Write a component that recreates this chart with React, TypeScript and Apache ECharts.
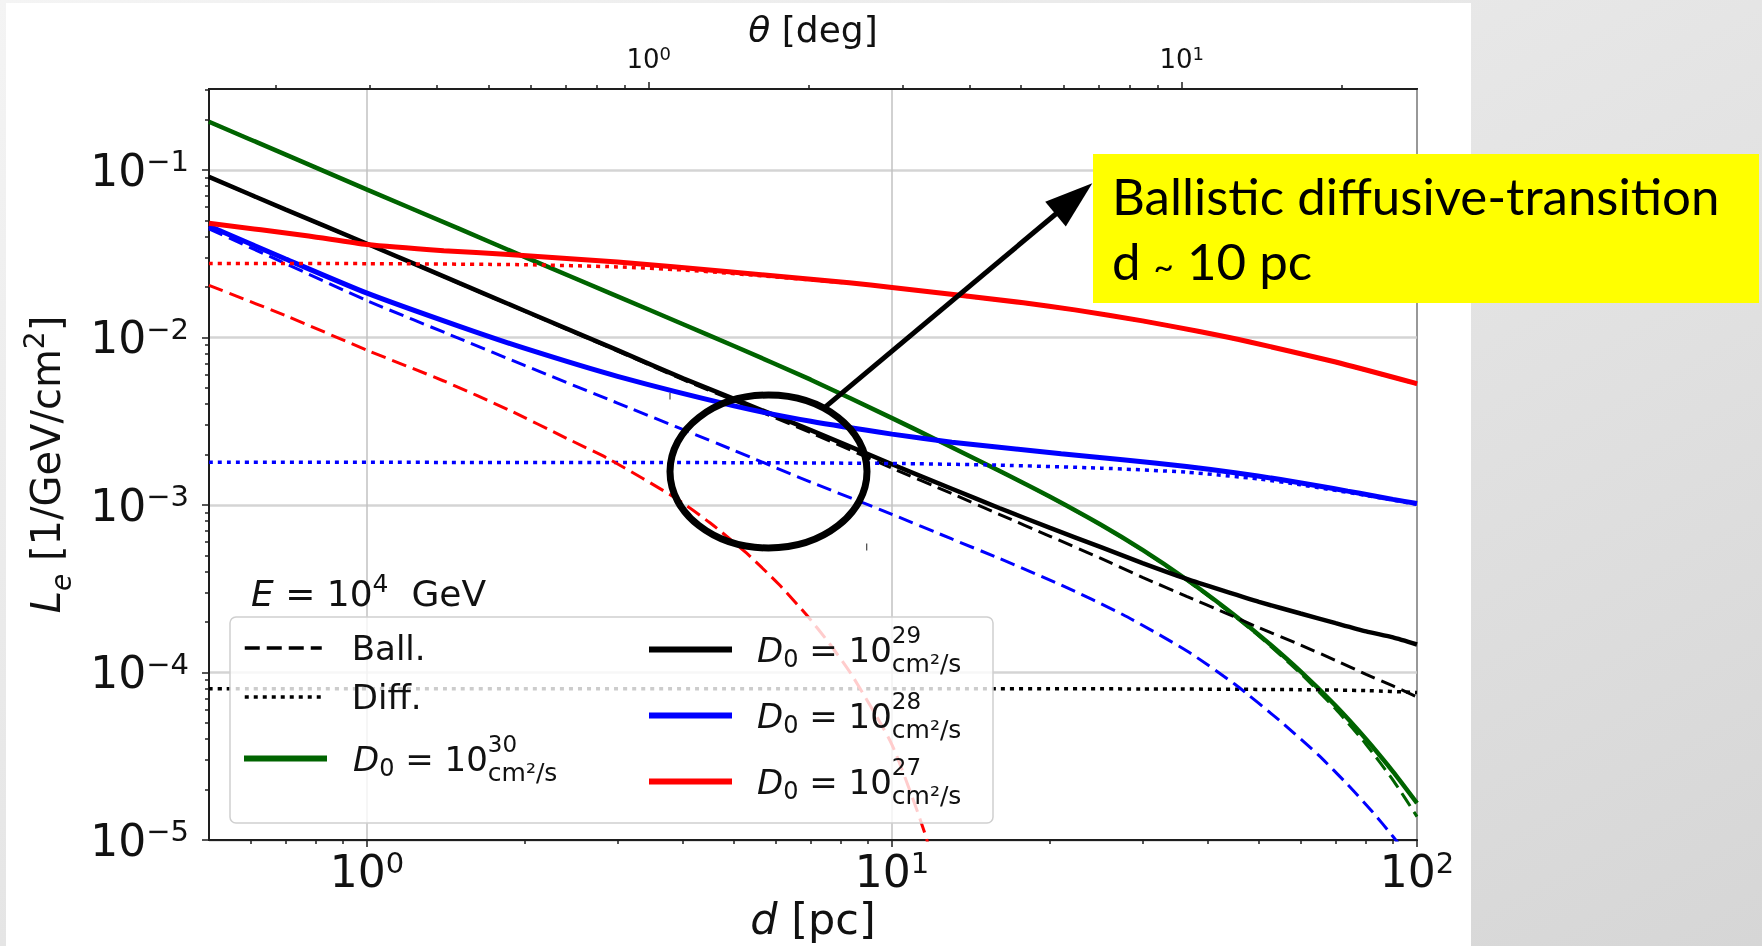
import React, { useEffect, useRef } from 'react';
import * as echarts from 'echarts';

type Pt = [number, number];

// ---------- data: [d (pc), L_e (1/GeV/cm^2)] ----------
const d30Total: Pt[] = [
  [0.5, 0.194], [0.7, 0.1235], [1, 0.0763], [1.5, 0.0445], [2, 0.0302], [3, 0.0176], [4, 0.012],
  [5, 0.0089], [7, 0.0056], [10, 0.0033], [12.1, 0.00247], [16, 0.0016], [20, 0.001119],
  [25, 0.000762], [30, 0.000539], [36.4, 0.000359], [43, 0.0002446], [50, 0.0001677],
  [60, 0.0001016], [70, 0.0000633], [80, 0.00004], [90, 0.0000256], [100, 0.0000166],
];
const d30Ball: Pt[] = [
  [0.5, 0.194], [0.7, 0.1235], [1, 0.0763], [1.5, 0.0445], [2, 0.0302], [3, 0.0176], [4, 0.012],
  [5, 0.0089], [7, 0.0056], [10, 0.0033], [12.1, 0.002467], [16, 0.001597], [20, 0.001116],
  [25, 0.000759], [30, 0.000536], [36.4, 0.000356], [43, 0.0002418], [50, 0.0001649],
  [60, 0.0000988], [70, 0.0000605], [80, 0.0000372], [90, 0.0000228], [100, 0.0000138],
];
const d29Total: Pt[] = [
  [0.5, 0.091], [0.7, 0.058], [1, 0.0363], [1.5, 0.0211], [2, 0.0144], [3, 0.0084], [4, 0.0057],
  [5, 0.0043], [7, 0.0028], [10, 0.00175], [13, 0.00125], [16, 0.00096], [20, 0.00073], [25, 0.00056],
  [30, 0.00045], [36.4, 0.000362], [43, 0.000306], [50, 0.000264], [60, 0.000225], [70, 0.000197],
  [80, 0.000176], [90, 0.000162], [100, 0.000147],
];
const d29Ball: Pt[] = [
  [0.5, 0.0909], [0.7, 0.0579], [1, 0.0362], [1.5, 0.021], [2, 0.0143], [3, 0.0083], [4, 0.0056],
  [5, 0.0042], [7, 0.0027], [10, 0.00166], [13, 0.00117], [16, 0.00088], [20, 0.00065], [25, 0.00048],
  [30, 0.00037], [36.4, 0.000285], [43, 0.000228], [50, 0.000185], [60, 0.000146], [70, 0.000118],
  [80, 0.0000975], [90, 0.0000832], [100, 0.0000715],
];
const d29Diff: Pt[] = [
  [0.5, 0.00008], [10, 0.00008], [30, 0.0000798], [60, 0.000079], [80, 0.000078], [100, 0.000076],
];
const d28Total: Pt[] = [
  [0.5, 0.0463], [0.7, 0.0294], [1, 0.0184], [1.5, 0.01165], [2, 0.0086], [3, 0.00586], [5, 0.00391],
  [7, 0.00316], [10, 0.00265], [13, 0.00237], [16, 0.00221], [21, 0.00202], [27.5, 0.00186],
  [36.4, 0.0017], [45, 0.00156], [55, 0.00142], [65, 0.0013], [73.8, 0.00121], [82, 0.00114],
  [90, 0.00108], [100, 0.00102],
];
const d28Ball: Pt[] = [
  [0.5, 0.0445], [0.7, 0.0276], [1, 0.0166], [1.5, 0.00985], [2, 0.00679], [3, 0.00406], [5, 0.00212],
  [7, 0.00137], [10, 0.00088], [13, 0.000627], [16, 0.00048], [21, 0.000333], [27.5, 0.000222],
  [36.4, 0.000135], [45, 0.000085], [55, 0.000051], [65, 0.000032], [73.8, 0.0000214], [82, 0.0000149],
  [90, 0.0000105], [96, 0.0000081],
];
const d28Diff: Pt[] = [
  [0.5, 0.0018], [5, 0.00179], [10, 0.00177], [16, 0.00173], [25, 0.00166], [36.4, 0.00157],
  [50, 0.00143], [60, 0.00132], [80, 0.00114], [100, 0.00101],
];
const d27Total: Pt[] = [
  [0.5, 0.0481], [0.774, 0.0404], [1, 0.0359], [1.4, 0.033], [1.86, 0.0313], [3, 0.0282],
  [4.89, 0.0247], [8.29, 0.0212], [10, 0.0199], [17.8, 0.01612], [22.3, 0.01462], [30, 0.01257],
  [38.5, 0.01086], [47.8, 0.00944], [70, 0.00714], [100, 0.0053],
];
const d27Ball: Pt[] = [
  [0.5, 0.0205], [0.7, 0.0135], [1, 0.0084], [1.4, 0.0055], [1.86, 0.0037], [2.4, 0.0025],
  [2.89, 0.00188], [3.87, 0.0011], [4.5, 0.000783], [5.28, 0.000517], [6.1, 0.000334],
  [6.87, 0.000221], [7.6, 0.000149], [8.43, 0.000094], [10, 0.000037], [11.6, 0.0000105],
  [12.5, 0.000004],
];
const d27Diff: Pt[] = [
  [0.5, 0.0277], [1, 0.0276], [2, 0.0272], [3, 0.0264], [4, 0.0253], [4.89, 0.0242], [8.29, 0.0211],
  [10, 0.0198], [17.8, 0.0161], [22.3, 0.0146], [30, 0.01255], [38.5, 0.01084], [47.8, 0.00942],
  [70, 0.00712], [100, 0.00528],
];

// ---------- axes ----------
const dRange = [0.5, 100];
const LRange = [1e-5, 0.3045];
const thetaRange = [0.1496, 27.64];
const dMajorTicks = [1, 10, 100];
const dMinorTicks = [0.6, 0.7, 0.8, 0.9, 2, 3, 4, 5, 6, 7, 8, 9, 20, 30, 40, 50, 60, 70, 80, 90];
const LMajorTicks = [1e-5, 1e-4, 1e-3, 1e-2, 1e-1];
const LMinorTicks = [
  2e-5, 3e-5, 4e-5, 5e-5, 6e-5, 7e-5, 8e-5, 9e-5,
  2e-4, 3e-4, 4e-4, 5e-4, 6e-4, 7e-4, 8e-4, 9e-4,
  2e-3, 3e-3, 4e-3, 5e-3, 6e-3, 7e-3, 8e-3, 9e-3,
  2e-2, 3e-2, 4e-2, 5e-2, 6e-2, 7e-2, 8e-2, 9e-2,
  0.2, 0.3,
];
const thetaMajorTicks = [1, 10];
const thetaMinorTicks = [0.2, 0.3, 0.4, 0.5, 0.6, 0.7, 0.8, 0.9, 2, 3, 4, 5, 6, 7, 8, 9, 20];

const legendExponents: Record<string, number> = {
  'D30': 30, 'D29': 29, 'D28': 28, 'D27': 27,
};

const FONT = "'DejaVu Sans', sans-serif";
const TXT = '#111111';
const AXC = '#1e1e1e';
const GREEN = '#006400';
const BLUE = '#0000ff';
const RED = '#ff0000';
const BLACK = '#000000';

const L10 = Math.log10;
const toXY = (pts: Pt[]) => pts.map(([d, L]) => [L10(d), L10(L)]);

const expLabel = (v: number) => {
  const n = Math.round(v);
  return `{b|10}{s|${n < 0 ? '\u2212' + -n : n}}`;
};

const bigTickRich = {
  b: { fontFamily: FONT, fontSize: 44, color: TXT },
  s: { fontFamily: FONT, fontSize: 29, color: TXT, padding: [0, 0, 18, 0] },
};
const smallTickRich = {
  b: { fontFamily: FONT, fontSize: 26, color: TXT },
  s: { fontFamily: FONT, fontSize: 18, color: TXT, padding: [0, 0, 12, 0] },
};
const legendRich = {
  it: { fontFamily: FONT, fontStyle: 'italic', fontSize: 34, color: TXT },
  s0: { fontFamily: FONT, fontSize: 24, color: TXT, padding: [19, 0, 0, 0] },
  n: { fontFamily: FONT, fontSize: 34, color: TXT },
  sup: { fontFamily: FONT, fontSize: 23, color: TXT, width: 0, padding: [0, 0, 30, 0] },
  sub: { fontFamily: FONT, fontSize: 25, color: TXT, padding: [28, 0, 0, 0] },
};

const tickLine = { color: AXC, width: 1.5 };

const lineSeries = (name: string, pts: Pt[], color: string, width: number, type: any) => ({
  type: 'line',
  name,
  data: toXY(pts),
  xAxisIndex: 0,
  yAxisIndex: 0,
  z: 2,
  symbol: 'none',
  showSymbol: false,
  smooth: 0.2,
  clip: true,
  silent: true,
  lineStyle: { color, width, type, cap: 'butt' },
  itemStyle: { color },
  emphasis: { disabled: true },
});

const DASH = [15, 7];
const DOT = [4, 5];

const legendItem = (name: string, left: number, top: number, itemWidth: number, padLeft: number, lw: number) => ({
  show: true,
  data: [name],
  left,
  top,
  orient: 'vertical',
  padding: 0,
  itemGap: 0,
  itemWidth,
  itemHeight: 60,
  selectedMode: false,
  z: 8,
  itemStyle: { opacity: 0 },
  lineStyle: { width: lw },
  formatter: (n: string) =>
    legendExponents[n] ? `{it|D}{s0|0}{n| = 10}{sup|${legendExponents[n]}}{sub|cm²/s}` : n,
  textStyle: { fontFamily: FONT, fontSize: 34, color: TXT, padding: [0, 0, 0, padLeft], rich: legendRich },
});

const noZero = { onZero: false };

const option: any = {
  animation: false,
  backgroundColor: 'transparent',
  grid: {
    left: 209, right: 345, top: 89, bottom: 106,
    show: true, borderColor: AXC, borderWidth: 2,
    outerBoundsMode: 'none',
  },
  xAxis: [
    {
      type: 'value', gridIndex: 0, position: 'bottom', min: L10(dRange[0]), max: L10(dRange[1]),
      name: '{i|d} [pc]', nameLocation: 'middle', nameGap: 57, nameMoveOverlap: false,
      nameTextStyle: {
        fontFamily: FONT, fontSize: 43, color: TXT,
        rich: { i: { fontFamily: FONT, fontSize: 43, fontStyle: 'italic', color: TXT } },
      },
      axisLine: { show: true, ...noZero, lineStyle: { color: AXC, width: 2 } },
      axisTick: { show: true, customValues: dMajorTicks.map(L10), length: 7, lineStyle: tickLine },
      axisLabel: {
        show: true, customValues: dMajorTicks.map(L10), formatter: expLabel, margin: 8,
        fontFamily: FONT, fontSize: 44, color: TXT, rich: bigTickRich,
      },
      splitLine: { show: true, lineStyle: { color: '#c2c2c2', width: 1.5 } },
    },
    {
      type: 'value', gridIndex: 0, position: 'bottom', min: L10(dRange[0]), max: L10(dRange[1]),
      axisLine: { show: false, ...noZero },
      axisTick: { show: true, customValues: dMinorTicks.map(L10), length: 4, lineStyle: tickLine },
      axisLabel: { show: false },
      splitLine: { show: false },
    },
    {
      type: 'value', gridIndex: 0, position: 'top', min: L10(thetaRange[0]), max: L10(thetaRange[1]),
      name: '{i|θ} [deg]', nameLocation: 'middle', nameGap: 42, nameMoveOverlap: false,
      nameTextStyle: {
        fontFamily: FONT, fontSize: 36, color: TXT,
        rich: { i: { fontFamily: FONT, fontSize: 36, fontStyle: 'italic', color: TXT } },
      },
      axisLine: { show: true, ...noZero, lineStyle: { color: AXC, width: 2 } },
      axisTick: { show: true, customValues: thetaMajorTicks.map(L10), length: 7, lineStyle: tickLine },
      axisLabel: {
        show: true, customValues: thetaMajorTicks.map(L10), formatter: expLabel, margin: 15,
        fontFamily: FONT, fontSize: 26, color: TXT, rich: smallTickRich,
      },
      splitLine: { show: false },
    },
    {
      type: 'value', gridIndex: 0, position: 'top', min: L10(thetaRange[0]), max: L10(thetaRange[1]),
      axisLine: { show: false, ...noZero },
      axisTick: { show: true, customValues: thetaMinorTicks.map(L10), length: 4, lineStyle: tickLine },
      axisLabel: { show: false },
      splitLine: { show: false },
    },
  ],
  yAxis: [
    {
      type: 'value', gridIndex: 0, position: 'left', min: L10(LRange[0]), max: L10(LRange[1]),
      name: '{it|L}{sub|e} [1/GeV/cm{sup|2}]', nameLocation: 'middle', nameGap: 134, nameMoveOverlap: false,
      nameTextStyle: {
        fontFamily: FONT, fontSize: 40, color: TXT,
        rich: {
          it: { fontFamily: FONT, fontSize: 40, fontStyle: 'italic', color: TXT },
          sub: { fontFamily: FONT, fontSize: 28, fontStyle: 'italic', color: TXT, padding: [30, 0, 0, 0] },
          sup: { fontFamily: FONT, fontSize: 28, color: TXT, padding: [0, 0, 24, 0] },
        },
      },
      axisLine: { show: true, ...noZero, lineStyle: { color: AXC, width: 2 } },
      axisTick: { show: true, customValues: LMajorTicks.map(L10), length: 7, lineStyle: tickLine },
      axisLabel: {
        show: true, customValues: LMajorTicks.map(L10), formatter: expLabel, margin: 20,
        fontFamily: FONT, fontSize: 44, color: TXT, rich: bigTickRich,
      },
      splitLine: { show: true, lineStyle: { color: '#d4d4d4', width: 2.5 } },
    },
    {
      type: 'value', gridIndex: 0, position: 'left', min: L10(LRange[0]), max: L10(LRange[1]),
      axisLine: { show: false, ...noZero },
      axisTick: { show: true, customValues: LMinorTicks.map(L10), length: 4, lineStyle: tickLine },
      axisLabel: { show: false },
      splitLine: { show: false },
    },
  ],
  legend: [
    legendItem('Ball.', 243, 624, 77, 25, 3.5),
    legendItem('Diff.', 243, 673, 77, 25, 3.5),
    legendItem('D30', 241, 732, 83, 21, 6),
    legendItem('D29', 646, 623, 83, 20, 6),
    legendItem('D28', 646, 689, 83, 20, 6),
    legendItem('D27', 646, 755, 83, 20, 6),
  ],
  series: [
    { ...lineSeries('Ball.', [], BLACK, 3, DASH) },
    { ...lineSeries('Diff.', [], BLACK, 3.5, DOT) },
    lineSeries('D30', d30Total, GREEN, 4.5, 'solid'),
    lineSeries('D30 ball', d30Ball, GREEN, 3, DASH),
    lineSeries('D29', d29Total, BLACK, 4.5, 'solid'),
    lineSeries('D29 ball', d29Ball, BLACK, 3, DASH),
    lineSeries('D29 diff', d29Diff, BLACK, 3.5, DOT),
    lineSeries('D28', d28Total, BLUE, 5, 'solid'),
    lineSeries('D28 ball', d28Ball, BLUE, 3, DASH),
    lineSeries('D28 diff', d28Diff, BLUE, 3.5, DOT),
    lineSeries('D27', d27Total, RED, 5, 'solid'),
    lineSeries('D27 ball', d27Ball, RED, 3, DASH),
    lineSeries('D27 diff', d27Diff, RED, 3.5, DOT),
  ],
  graphic: [
    {
      type: 'rect', z: -10, silent: true,
      shape: { x: 0, y: 0, width: 1762, height: 946 },
      style: {
        fill: new echarts.graphic.LinearGradient(0, 0, 1, 1, [
          { offset: 0, color: '#f4f4f4' },
          { offset: 1, color: '#d6d6d6' },
        ]),
      },
    },
    {
      type: 'rect', z: -9, silent: true,
      shape: { x: 6, y: 3, width: 1465, height: 943 },
      style: { fill: '#ffffff' },
    },
    {
      type: 'rect', z: 6, silent: true,
      shape: { x: 230, y: 617, width: 763, height: 206, r: 6 },
      style: { fill: 'rgba(255,255,255,0.8)', stroke: '#cfcfcf', lineWidth: 1.5 },
    },
    {
      type: 'text', z: 20, silent: true, x: 251, y: 593,
      style: {
        text: '{it|E} = 10{sup|4}  GeV',
        fontFamily: FONT, fontSize: 36, fill: TXT, align: 'left', verticalAlign: 'middle',
        rich: {
          it: { fontFamily: FONT, fontSize: 36, fontStyle: 'italic', fill: TXT },
          sup: { fontFamily: FONT, fontSize: 25, fill: TXT, padding: [0, 0, 19, 0] },
        },
      },
    },
    {
      type: 'ellipse', z: 20, silent: true,
      shape: { cx: 768.5, cy: 471.5, rx: 98.5, ry: 76.5 },
      style: { fill: 'none', stroke: '#000', lineWidth: 7 },
    },
    {
      type: 'line', z: 20, silent: true,
      shape: { x1: 670, y1: 393, x2: 670, y2: 399.5 },
      style: { stroke: '#444', lineWidth: 1.2 },
    },
    {
      type: 'line', z: 20, silent: true,
      shape: { x1: 866.7, y1: 543.5, x2: 866.7, y2: 550.5 },
      style: { stroke: '#444', lineWidth: 1.2 },
    },
    {
      type: 'line', z: 20, silent: true,
      shape: { x1: 825.7, y1: 406.7, x2: 1057, y2: 213 },
      style: { stroke: '#000', lineWidth: 5 },
    },
    {
      type: 'polygon', z: 20, silent: true,
      shape: { points: [[1092.3, 183.3], [1065.8, 226.4], [1045.2, 201.8]] },
      style: { fill: '#000' },
    },
    {
      type: 'rect', z: 21, silent: true,
      shape: { x: 1093, y: 154, width: 666, height: 149 },
      style: { fill: '#ffff00' },
    },
    {
      type: 'text', z: 22, silent: true, x: 1112, y: 195,
      style: {
        text: 'Ballistic diffusive-transition',
        fontFamily: 'Lato', fontSize: 51, fill: '#000', align: 'left', verticalAlign: 'middle',
      },
    },
    {
      type: 'text', z: 22, silent: true, x: 1112, y: 260,
      style: {
        text: 'd {t|~} 10 pc',
        fontFamily: 'Lato', fontSize: 51, fill: '#000', align: 'left', verticalAlign: 'middle',
        rich: { t: { fontFamily: 'Lato', fontSize: 35, fill: '#000', padding: [9, 0, 0, 0] } },
      },
    },
  ],
};

export default function App() {
  const ref = useRef<HTMLDivElement>(null);
  useEffect(() => {
    if (!ref.current) return;
    const chart = echarts.init(ref.current, null, { renderer: 'svg' });
    chart.setOption(option);
    return () => chart.dispose();
  }, []);
  return (
    <div
      ref={ref}
      style={{ position: 'fixed', left: 0, top: 0, width: 1762, height: 946 }}
    />
  );
}
